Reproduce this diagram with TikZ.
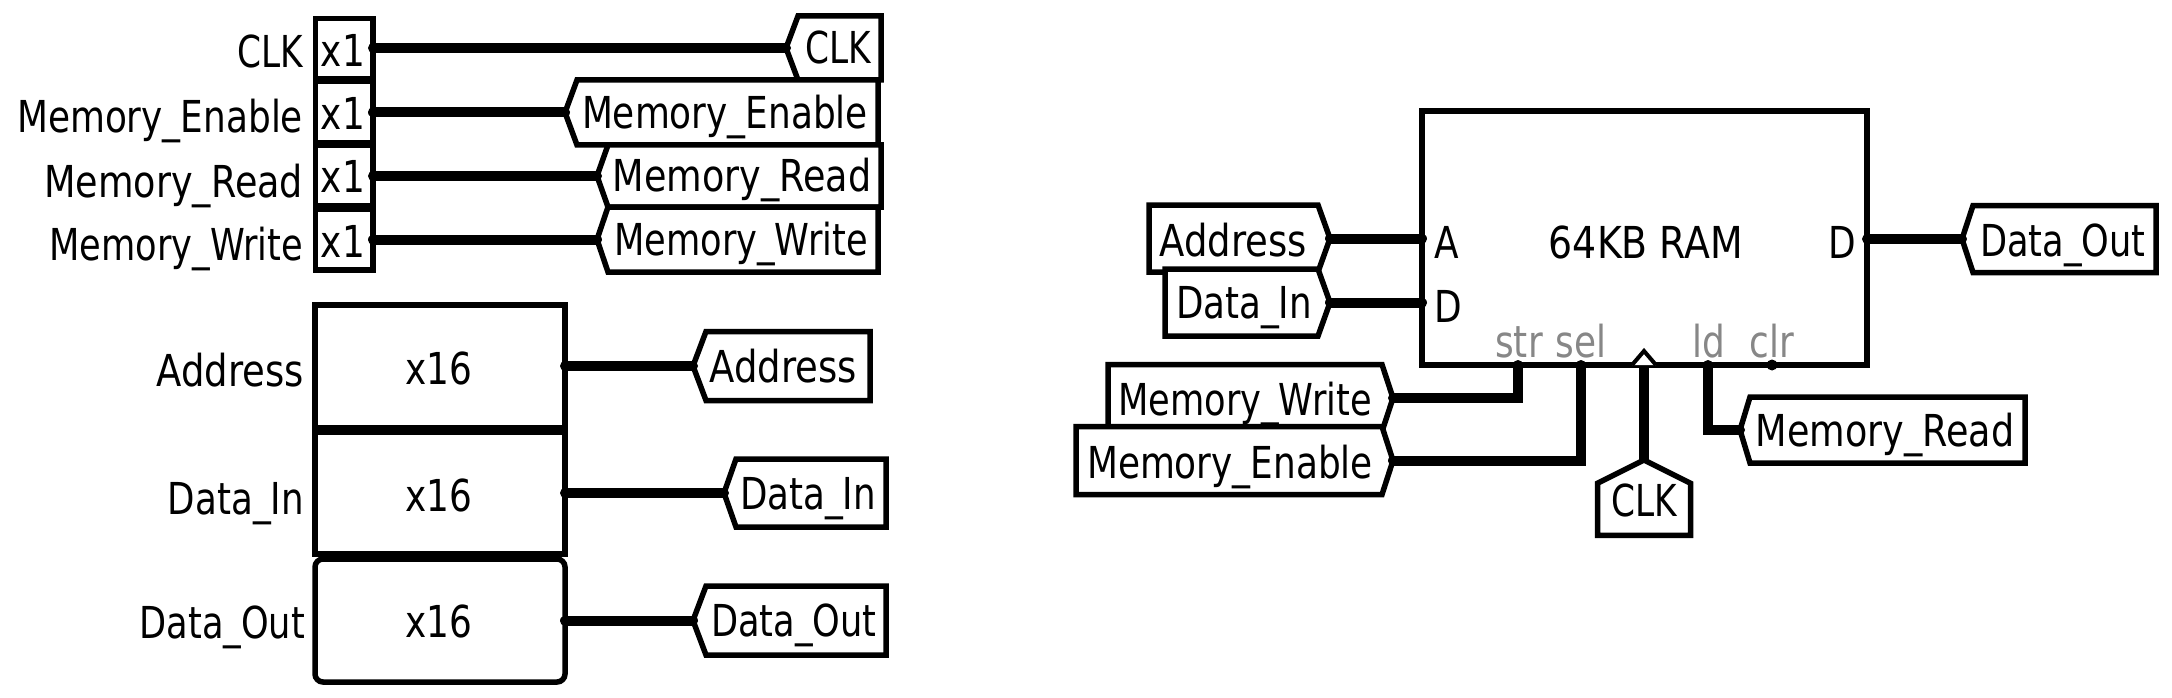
\documentclass[tikz,border=0pt]{standalone}
\usepackage{fontspec}
\setmainfont{DejaVu Sans}
\usetikzlibrary{shapes.symbols,calc}
\newcommand\T[2][.815]{\scalebox{#1}[1]{#2}}
\tikzset{
  stroke/.style={draw=black,line width=5.5pt,line join=miter,fill=white},
  box/.style={stroke,rectangle,inner sep=0pt,outer sep=0pt},
  lab/.style={inner sep=0pt,outer sep=0pt,anchor=base,font=\fontsize{44}{50}\selectfont},
  lbl/.style={lab,anchor=base east},
  pin/.style={lab,text=black!47},
  wire/.style={draw=black,line width=10pt,line cap=round,line join=miter},
  tagnode/.style={stroke,shape=signal,signal from=nowhere,inner sep=0pt,outer sep=0pt},
}
% name, direction, anchor, x, y, length, height, pointer depth
\newcommand\tagat[8]{%
  \pgfmathsetmacro\ang{2*atan(#7/2/#8)}%
  \node[tagnode,signal to=#2,signal pointer angle=\ang,anchor=#3,
        minimum width=#6pt,minimum height=#7pt] (#1) at (#4,#5) {};}
\begin{document}
\begin{tikzpicture}[x=1pt,y=-1pt]
\useasboundingbox (0,0) rectangle (2172,698);
% x1 register column
\node[box,minimum width=57.5pt,minimum height=60pt] (r1) at (344.25,48.5) {};
\node[box,minimum width=57.5pt,minimum height=61pt] (r2) at (344.25,112) {};
\node[box,minimum width=57.5pt,minimum height=60pt] (r3) at (344.25,175.5) {};
\node[box,minimum width=57.5pt,minimum height=60.5pt] (r4) at (344.25,239.75) {};
\node[lab] (r1t) at (343,67) {\T{x1}};
\node[lab] (r2t) at (343,130) {\T{x1}};
\node[lab] (r3t) at (343,193) {\T{x1}};
\node[lab] (r4t) at (343,257) {\T{x1}};
\node[lbl] (l1) at (303,68) {\T[.78]{CLK}};
\node[lbl] (l2) at (303,133) {\T{Memory\_Enable}};
\node[lbl] (l3) at (303,197) {\T[.83]{Memory\_Read}};
\node[lbl] (l4) at (303,260) {\T[.80]{Memory\_Write}};
% x16 registers
\node[box,minimum width=250pt,minimum height=123pt] (r5) at (440,366.5) {};
\node[box,minimum width=250pt,minimum height=122pt] (r6) at (440,493) {};
\node[box,rounded corners=8pt,minimum width=250pt,minimum height=123pt] (r7) at (440,620.5) {};
\node[lab] (r5t) at (439,384) {\T{x16}};
\node[lab] (r6t) at (439,511) {\T{x16}};
\node[lab] (r7t) at (439,637) {\T{x16}};
\node[lbl] (l5) at (304,386) {\T[.84]{Address}};
\node[lbl] (l6) at (304,514) {\T[.81]{Data\_In}};
\node[lbl] (l7) at (305,638) {\T[.80]{Data\_Out}};
% left tags
\tagat{a1}{west}{west}{786}{48}{95}{64}{12}
\tagat{a2}{west}{west}{565}{112.5}{313}{65}{12}
\tagat{a3}{west}{west}{597}{176}{284}{62}{11}
\tagat{a4}{west}{west}{597}{239.5}{281}{65}{11}
\tagat{a5}{west}{west}{693}{366}{177}{69}{13}
\tagat{a6}{west}{west}{724}{493}{162}{68}{12}
\tagat{a7}{west}{west}{693}{620.5}{193}{69}{13}
\node[lab] (a1t) at (838,64) {\T[.78]{CLK}};
\node[lab] (a2t) at (725,129) {\T{Memory\_Enable}};
\node[lab] (a3t) at (742,191) {\T[.83]{Memory\_Read}};
\node[lab] (a4t) at (741,255) {\T[.80]{Memory\_Write}};
\node[lab] (a5t) at (783,382) {\T[.84]{Address}};
\node[lab] (a6t) at (808,509) {\T[.81]{Data\_In}};
\node[lab] (a7t) at (794,636) {\T[.80]{Data\_Out}};
\draw[wire] (r1.east |- a1.west) -- (a1.west);
\draw[wire] (r2.east |- a2.west) -- (a2.west);
\draw[wire] (r3.east |- a3.west) -- (a3.west);
\draw[wire] (r4.east |- a4.west) -- (a4.west);
\draw[wire] (r5.east |- a5.west) -- (a5.west);
\draw[wire] (r6.east |- a6.west) -- (a6.west);
\draw[wire] (r7.east |- a7.west) -- (a7.west);
% RAM
\node[box,minimum width=445pt,minimum height=254pt] (ram) at (1644.5,238) {};
\node[lab] (ramt) at (1646,258) {\scalebox{.86}[1]{64KB RAM}};
\node[lab,anchor=base west] (pa) at (1434,258) {\T{A}};
\node[lab,anchor=base west] (pd) at (1434,322) {\T{D}};
\node[lab,anchor=base east] (pq) at (1856,258) {\T{D}};
\node[pin] (pstr) at (1519,357) {\T{str}};
\node[pin] (psel) at (1581,357) {\T{sel}};
\node[pin] (pld) at (1709,357) {\T{ld}};
\node[pin] (pclr) at (1772,357) {\T{clr}};
\coordinate (cstr) at (1518,365);
\coordinate (csel) at (1581,365);
\coordinate (cclk) at (1644,365);
\coordinate (cld) at (1708,365);
\coordinate (cclr) at (1772,365);
\fill (cclr) circle (5.5pt);
% right tags
\tagat{b1}{east}{east}{1330}{238.5}{181}{67}{12}
\tagat{b2}{east}{east}{1330}{302.5}{165}{67}{12}
\tagat{b3}{east}{east}{1393}{398}{285}{67}{11}
\tagat{b4}{east}{east}{1393}{460.5}{317}{68}{11}
\tagat{b5}{west}{west}{1962}{239}{194}{67}{11}
\tagat{b6}{west}{west}{1740}{430}{285}{66}{10}
\tagat{b7}{north}{north}{1644}{460}{93}{52}{13}
\node[lab] (b1t) at (1233,256) {\T[.84]{Address}};
\node[lab] (b2t) at (1244,318) {\T[.81]{Data\_In}};
\node[lab] (b3t) at (1245,415) {\T[.80]{Memory\_Write}};
\node[lab] (b4t) at (1230,478) {\T{Memory\_Enable}};
\node[lab] (b5t) at (2063,256) {\T[.80]{Data\_Out}};
\node[lab] (b6t) at (1885,446) {\T[.83]{Memory\_Read}};
\node[lab] (b7t) at (1644,516) {\T[.78]{CLK}};
\draw[wire] (b1.east) -- (b1.east -| ram.west);
\draw[wire] (b2.east) -- (b2.east -| ram.west);
\draw[wire] (b3.east) -| (cstr);
\draw[wire] (b4.east) -| (csel);
\draw[wire] (ram.east |- b5.west) -- (b5.west);
\draw[wire] (cld) |- (b6.west);
\draw[wire,line cap=butt] (b7.north) -- (cclk);
\draw[draw=black,line width=4pt,fill=white,line join=miter] ($(cclk)+(-12,0)$) -- ($(cclk)+(0,-14)$) -- ($(cclk)+(12,0)$);
\end{tikzpicture}
\end{document}
